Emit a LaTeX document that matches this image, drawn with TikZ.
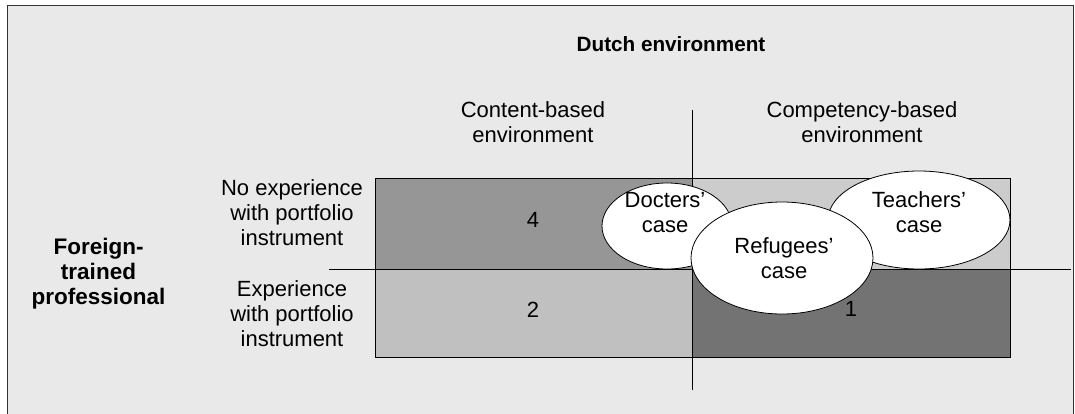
\documentclass[tikz,border=0pt]{standalone}
\usepackage{fontspec}
\setmainfont{Liberation Sans}
\usetikzlibrary{shapes.geometric}
\definecolor{panelbg}{HTML}{E9E9E9}
\definecolor{quadA}{HTML}{969696}
\definecolor{quadB}{HTML}{CCCCCC}
\definecolor{quadC}{HTML}{C0C0C0}
\definecolor{quadD}{HTML}{737373}
\begin{document}
\begin{tikzpicture}[x=1pt,y=-1pt,
  every node/.style={font=\fontsize{22}{25}\selectfont, inner sep=0pt},
  lbl/.style={align=center},
  hdr/.style={align=center, font=\fontsize{22.5}{25}\selectfont\bfseries},
  quad/.style={draw=black, line width=0.8pt},
  case/.style={ellipse, draw=black, fill=white, line width=0.8pt, inner sep=0pt},
  axis/.style={draw=black, line width=0.8pt}]
\useasboundingbox (0,0) rectangle (1075,413);
% panel
\draw[fill=panelbg, draw=black!80, line width=1.5pt] (7.5,5.5) rectangle (1073.5,440);

% headings
\node[hdr, anchor=base, font=\fontsize{20.7}{25}\selectfont\bfseries] (title) at (671,51) {Dutch environment};
\node[lbl] (content) at (533,121.7) {Content-based\\environment};
\node[lbl] (competency) at (862,121.7) {Competency-based\\environment};
\node[lbl] (noexp) at (292,212.3) {No experience\\with portfolio\\instrument};
\node[lbl] (exp) at (292,313.3) {Experience\\with portfolio\\instrument};
\node[hdr] (foreign) at (98.5,273.4) {Foreign-\\trained\\professional};

% quadrants
\draw[quad, fill=quadA] (375,178) rectangle (692,269);
\draw[quad, fill=quadB] (692,178) rectangle (1010,269);
\draw[quad, fill=quadC] (375,269) rectangle (692,357);
\draw[quad, fill=quadD] (692,269) rectangle (1010,357);
\node (q4) at (533,220) {4};
\node (q2) at (533,310) {2};
\node (q1) at (851,309) {1};

% axes
\draw[axis] (329,269) -- (1071,269);
\draw[axis] (692,110) -- (692,390);

% cases
\node[case, minimum width=130pt, minimum height=86pt] (docE) at (667,226) {};
\node[lbl] (docT) at (665,212.3) {Docters’\\case};
\node[case, minimum width=182pt, minimum height=98pt] (teaE) at (919,220) {};
\node[lbl] (teaT) at (919,212.3) {Teachers’\\case};
\node[case, minimum width=182pt, minimum height=112pt] (refE) at (782,258) {};
\node[lbl] (refT) at (784,258.3) {Refugees’\\case};
\end{tikzpicture}
\end{document}
